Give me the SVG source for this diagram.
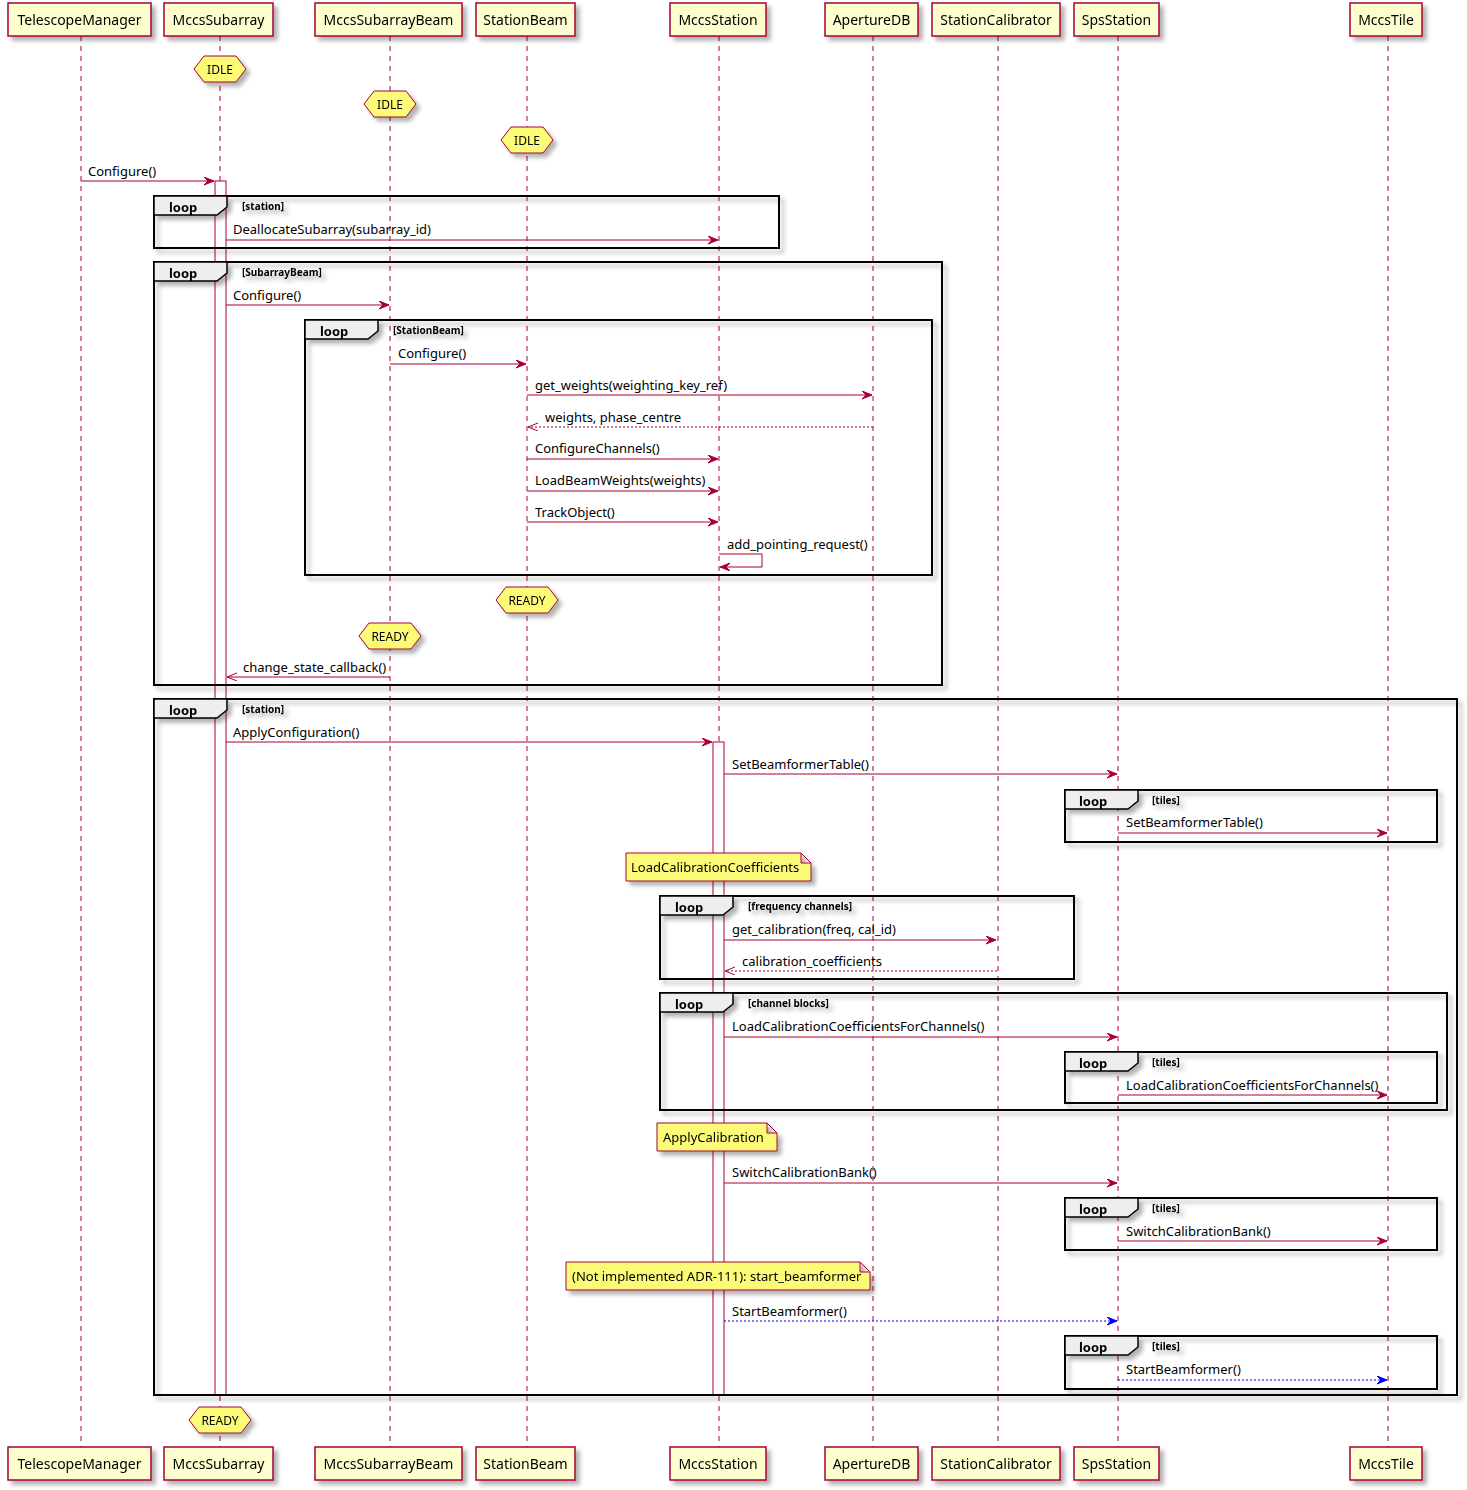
<svg xmlns="http://www.w3.org/2000/svg" width="1467" height="1490" viewBox="0 0 1467 1490">
<style>
.bg{fill:#FFFFFF}
.part rect{fill:#FEFECE;stroke:#A80036;stroke-width:1.5}
.part text{font-family:"Noto Sans","DejaVu Sans",sans-serif;font-size:14px;fill:#000;text-anchor:middle}
.life{stroke:#A80036;stroke-width:1;stroke-dasharray:5,5;fill:none}
.act{fill:#FFFFFF;stroke:#A80036;stroke-width:1}
.frame{fill:none;stroke:#000;stroke-width:2}
.tab{fill:#EEEEEE;stroke:#000;stroke-width:1.5}
.ltxt{font-family:"Noto Sans","DejaVu Sans",sans-serif;font-size:13px;font-weight:bold;fill:#000}
.ctxt{font-family:"Noto Sans","DejaVu Sans",sans-serif;font-size:10px;font-weight:bold;fill:#000}
.msg{stroke:#A80036;stroke-width:1;fill:none}
.ret{stroke:#A80036;stroke-width:1;fill:none;stroke-dasharray:2,2}
.blue{stroke:#0000FF;stroke-width:1;fill:none;stroke-dasharray:2,2}
.mtxt{font-family:"Noto Sans","DejaVu Sans",sans-serif;font-size:13px;fill:#000}
.hex polygon{fill:#FBFB77;stroke:#A80036;stroke-width:1}
.hex text{font-family:"Noto Sans","DejaVu Sans",sans-serif;font-size:12px;fill:#000;text-anchor:middle}
.note path{fill:#FBFB77;stroke:#A80036;stroke-width:1}
.note text{font-family:"Noto Sans","DejaVu Sans",sans-serif;font-size:13px;fill:#000}
</style>
<defs>
<filter id="sh" x="-10%" y="-10%" width="130%" height="150%">
<feDropShadow dx="4" dy="4" stdDeviation="2" flood-color="#000" flood-opacity="0.3"/>
</filter>
<marker id="ah" markerUnits="userSpaceOnUse" markerWidth="12" markerHeight="10" refX="10" refY="4" orient="auto">
<path d="M0,0 L10,4 L0,8 L4,4 Z" fill="#A80036" stroke="#A80036" stroke-width="1"/>
</marker>
<marker id="ahb" markerUnits="userSpaceOnUse" markerWidth="12" markerHeight="10" refX="10" refY="4" orient="auto">
<path d="M0,0 L10,4 L0,8 L4,4 Z" fill="#0000FF" stroke="#0000FF" stroke-width="1"/>
</marker>
<marker id="aho" markerUnits="userSpaceOnUse" markerWidth="12" markerHeight="10" refX="10" refY="4" orient="auto">
<path d="M0,0 L10,4 L0,8" fill="none" stroke="#A80036" stroke-width="1"/>
</marker>
</defs>
<rect class="bg" x="0" y="0" width="1467" height="1490"/>

<g id="lifelines">
<line class="life" x1="81" y1="36" x2="81" y2="1447"/>
<line class="life" x1="220" y1="36" x2="220" y2="1447"/>
<line class="life" x1="390" y1="36" x2="390" y2="1447"/>
<line class="life" x1="527" y1="36" x2="527" y2="1447"/>
<line class="life" x1="719" y1="36" x2="719" y2="1447"/>
<line class="life" x1="873" y1="36" x2="873" y2="1447"/>
<line class="life" x1="998" y1="36" x2="998" y2="1447"/>
<line class="life" x1="1118" y1="36" x2="1118" y2="1447"/>
<line class="life" x1="1388" y1="36" x2="1388" y2="1447"/>
</g>

<g id="activations">
<rect class="act" x="215" y="181" width="11" height="1214"/>
<rect class="act" x="713" y="742" width="11" height="653"/>
</g>

<g id="participants">
<g id="p-TelescopeManager" class="part" filter="url(#sh)"><rect x="8" y="3" width="143" height="33"/><text x="79.5" y="25">TelescopeManager</text><rect x="8" y="1447" width="143" height="33"/><text x="79.5" y="1469">TelescopeManager</text></g>
<g id="p-MccsSubarray" class="part" filter="url(#sh)"><rect x="164" y="3" width="109" height="33"/><text x="218.5" y="25">MccsSubarray</text><rect x="164" y="1447" width="109" height="33"/><text x="218.5" y="1469">MccsSubarray</text></g>
<g id="p-MccsSubarrayBeam" class="part" filter="url(#sh)"><rect x="315" y="3" width="147" height="33"/><text x="388.5" y="25">MccsSubarrayBeam</text><rect x="315" y="1447" width="147" height="33"/><text x="388.5" y="1469">MccsSubarrayBeam</text></g>
<g id="p-StationBeam" class="part" filter="url(#sh)"><rect x="476" y="3" width="99" height="33"/><text x="525.5" y="25">StationBeam</text><rect x="476" y="1447" width="99" height="33"/><text x="525.5" y="1469">StationBeam</text></g>
<g id="p-MccsStation" class="part" filter="url(#sh)"><rect x="670" y="3" width="96" height="33"/><text x="718" y="25">MccsStation</text><rect x="670" y="1447" width="96" height="33"/><text x="718" y="1469">MccsStation</text></g>
<g id="p-ApertureDB" class="part" filter="url(#sh)"><rect x="825" y="3" width="93" height="33"/><text x="871.5" y="25">ApertureDB</text><rect x="825" y="1447" width="93" height="33"/><text x="871.5" y="1469">ApertureDB</text></g>
<g id="p-StationCalibrator" class="part" filter="url(#sh)"><rect x="932" y="3" width="128" height="33"/><text x="996" y="25">StationCalibrator</text><rect x="932" y="1447" width="128" height="33"/><text x="996" y="1469">StationCalibrator</text></g>
<g id="p-SpsStation" class="part" filter="url(#sh)"><rect x="1074" y="3" width="85" height="33"/><text x="1116.5" y="25">SpsStation</text><rect x="1074" y="1447" width="85" height="33"/><text x="1116.5" y="1469">SpsStation</text></g>
<g id="p-MccsTile" class="part" filter="url(#sh)"><rect x="1350" y="3" width="72" height="33"/><text x="1386" y="25">MccsTile</text><rect x="1350" y="1447" width="72" height="33"/><text x="1386" y="1469">MccsTile</text></g>
</g>

<g id="states">
<g id="s-idle-1" class="hex" filter="url(#sh)"><polygon points="194,69 204,56 236,56 246,69 236,82 204,82"/><text x="220" y="73.5">IDLE</text></g>
<g id="s-idle-2" class="hex" filter="url(#sh)"><polygon points="364,104 374,91 406,91 416,104 406,117 374,117"/><text x="390" y="108.5">IDLE</text></g>
<g id="s-idle-3" class="hex" filter="url(#sh)"><polygon points="501,140 511,127 543,127 553,140 543,153 511,153"/><text x="527" y="144.5">IDLE</text></g>
<g id="s-ready-1" class="hex" filter="url(#sh)"><polygon points="496,600 506,587 548,587 558,600 548,613 506,613"/><text x="527" y="604.5">READY</text></g>
<g id="s-ready-2" class="hex" filter="url(#sh)"><polygon points="359,636 369,623 411,623 421,636 411,649 369,649"/><text x="390" y="640.5">READY</text></g>
<g id="s-ready-3" class="hex" filter="url(#sh)"><polygon points="189,1420 199,1407 241,1407 251,1420 241,1433 199,1433"/><text x="220" y="1424.5">READY</text></g>
</g>

<g id="frames">
<g id="loop1" filter="url(#sh)"><rect class="frame" x="154" y="196" width="625" height="52"/><path class="tab" d="M154,196 L227,196 L227,207 L217,215 L154,215 Z"/><text class="ltxt" x="169" y="212">loop</text><text class="ctxt" x="242" y="210">[station]</text></g>
<g id="loop2" filter="url(#sh)"><rect class="frame" x="154" y="262" width="788" height="423"/><path class="tab" d="M154,262 L227,262 L227,273 L217,281 L154,281 Z"/><text class="ltxt" x="169" y="278">loop</text><text class="ctxt" x="242" y="276">[SubarrayBeam]</text></g>
<g id="loop3" filter="url(#sh)"><rect class="frame" x="305" y="320" width="627" height="255"/><path class="tab" d="M305,320 L378,320 L378,331 L368,339 L305,339 Z"/><text class="ltxt" x="320" y="336">loop</text><text class="ctxt" x="393" y="334">[StationBeam]</text></g>
<g id="loop4" filter="url(#sh)"><rect class="frame" x="154" y="699" width="1303" height="696"/><path class="tab" d="M154,699 L227,699 L227,710 L217,718 L154,718 Z"/><text class="ltxt" x="169" y="715">loop</text><text class="ctxt" x="242" y="713">[station]</text></g>
<g id="loop5" filter="url(#sh)"><rect class="frame" x="1065" y="790" width="372" height="52"/><path class="tab" d="M1065,790 L1138,790 L1138,801 L1128,809 L1065,809 Z"/><text class="ltxt" x="1079" y="806">loop</text><text class="ctxt" x="1152" y="804">[tiles]</text></g>
<g id="loop6" filter="url(#sh)"><rect class="frame" x="660" y="896" width="414" height="83"/><path class="tab" d="M660,896 L733,896 L733,907 L723,915 L660,915 Z"/><text class="ltxt" x="675" y="912">loop</text><text class="ctxt" x="748" y="910">[frequency channels]</text></g>
<g id="loop7" filter="url(#sh)"><rect class="frame" x="660" y="993" width="787" height="117"/><path class="tab" d="M660,993 L733,993 L733,1004 L723,1012 L660,1012 Z"/><text class="ltxt" x="675" y="1009">loop</text><text class="ctxt" x="748" y="1007">[channel blocks]</text></g>
<g id="loop8" filter="url(#sh)"><rect class="frame" x="1065" y="1052" width="372" height="51"/><path class="tab" d="M1065,1052 L1138,1052 L1138,1063 L1128,1071 L1065,1071 Z"/><text class="ltxt" x="1079" y="1068">loop</text><text class="ctxt" x="1152" y="1066">[tiles]</text></g>
<g id="loop9" filter="url(#sh)"><rect class="frame" x="1065" y="1198" width="372" height="52"/><path class="tab" d="M1065,1198 L1138,1198 L1138,1209 L1128,1217 L1065,1217 Z"/><text class="ltxt" x="1079" y="1214">loop</text><text class="ctxt" x="1152" y="1212">[tiles]</text></g>
<g id="loop10" filter="url(#sh)"><rect class="frame" x="1065" y="1336" width="372" height="53"/><path class="tab" d="M1065,1336 L1138,1336 L1138,1347 L1128,1355 L1065,1355 Z"/><text class="ltxt" x="1079" y="1352">loop</text><text class="ctxt" x="1152" y="1350">[tiles]</text></g>
</g>

<g id="notes">
<g id="note1" class="note" filter="url(#sh)"><path d="M626,853 L801,853 L811,863 L811,881 L626,881 Z M801,853 L801,863 L811,863"/><text x="631" y="872">LoadCalibrationCoefficients</text></g>
<g id="note2" class="note" filter="url(#sh)"><path d="M657,1123 L767,1123 L777,1133 L777,1151 L657,1151 Z M767,1123 L767,1133 L777,1133"/><text x="663" y="1142">ApplyCalibration</text></g>
<g id="note3" class="note" filter="url(#sh)"><path d="M566,1262 L860,1262 L870,1272 L870,1290 L566,1290 Z M860,1262 L860,1272 L870,1272"/><text x="572" y="1281">(Not implemented ADR-111): start_beamformer</text></g>
</g>

<g id="connectors">
<line class="msg" x1="81" y1="181" x2="214" y2="181" marker-end="url(#ah)"/>
<text class="mtxt" x="88" y="176">Configure()</text>
<line class="msg" x1="226" y1="240" x2="718" y2="240" marker-end="url(#ah)"/>
<text class="mtxt" x="233" y="234">DeallocateSubarray(subarray_id)</text>
<line class="msg" x1="226" y1="305" x2="389" y2="305" marker-end="url(#ah)"/>
<text class="mtxt" x="233" y="300">Configure()</text>
<line class="msg" x1="390" y1="364" x2="526" y2="364" marker-end="url(#ah)"/>
<text class="mtxt" x="398" y="358">Configure()</text>
<line class="msg" x1="527" y1="395" x2="872" y2="395" marker-end="url(#ah)"/>
<text class="mtxt" x="535" y="390">get_weights(weighting_key_ref)</text>
<line class="ret" x1="873" y1="427" x2="528" y2="427" marker-end="url(#aho)"/>
<text class="mtxt" x="545" y="422">weights, phase_centre</text>
<line class="msg" x1="527" y1="459" x2="718" y2="459" marker-end="url(#ah)"/>
<text class="mtxt" x="535" y="453">ConfigureChannels()</text>
<line class="msg" x1="527" y1="491" x2="718" y2="491" marker-end="url(#ah)"/>
<text class="mtxt" x="535" y="485">LoadBeamWeights(weights)</text>
<line class="msg" x1="527" y1="522" x2="718" y2="522" marker-end="url(#ah)"/>
<text class="mtxt" x="535" y="517">TrackObject()</text>
<polyline class="msg" points="719,554 762,554 762,567 720,567" marker-end="url(#ah)"/>
<text class="mtxt" x="727" y="549">add_pointing_request()</text>
<line class="msg" x1="390" y1="677" x2="227" y2="677" marker-end="url(#aho)"/>
<text class="mtxt" x="243" y="672">change_state_callback()</text>
<line class="msg" x1="226" y1="742" x2="712" y2="742" marker-end="url(#ah)"/>
<text class="mtxt" x="233" y="737">ApplyConfiguration()</text>
<line class="msg" x1="724" y1="774" x2="1117" y2="774" marker-end="url(#ah)"/>
<text class="mtxt" x="732" y="769">SetBeamformerTable()</text>
<line class="msg" x1="1118" y1="833" x2="1387" y2="833" marker-end="url(#ah)"/>
<text class="mtxt" x="1126" y="827">SetBeamformerTable()</text>
<line class="msg" x1="724" y1="940" x2="996" y2="940" marker-end="url(#ah)"/>
<text class="mtxt" x="732" y="934">get_calibration(freq, cal_id)</text>
<line class="ret" x1="997" y1="971" x2="725" y2="971" marker-end="url(#aho)"/>
<text class="mtxt" x="742" y="966">calibration_coefficients</text>
<line class="msg" x1="724" y1="1037" x2="1117" y2="1037" marker-end="url(#ah)"/>
<text class="mtxt" x="732" y="1031">LoadCalibrationCoefficientsForChannels()</text>
<line class="msg" x1="1118" y1="1095" x2="1387" y2="1095" marker-end="url(#ah)"/>
<text class="mtxt" x="1126" y="1090">LoadCalibrationCoefficientsForChannels()</text>
<line class="msg" x1="724" y1="1183" x2="1117" y2="1183" marker-end="url(#ah)"/>
<text class="mtxt" x="732" y="1177">SwitchCalibrationBank()</text>
<line class="msg" x1="1118" y1="1241" x2="1387" y2="1241" marker-end="url(#ah)"/>
<text class="mtxt" x="1126" y="1236">SwitchCalibrationBank()</text>
<line class="blue" x1="724" y1="1321" x2="1117" y2="1321" marker-end="url(#ahb)"/>
<text class="mtxt" x="732" y="1316">StartBeamformer()</text>
<line class="blue" x1="1118" y1="1380" x2="1387" y2="1380" marker-end="url(#ahb)"/>
<text class="mtxt" x="1126" y="1374">StartBeamformer()</text>
</g>
</svg>
